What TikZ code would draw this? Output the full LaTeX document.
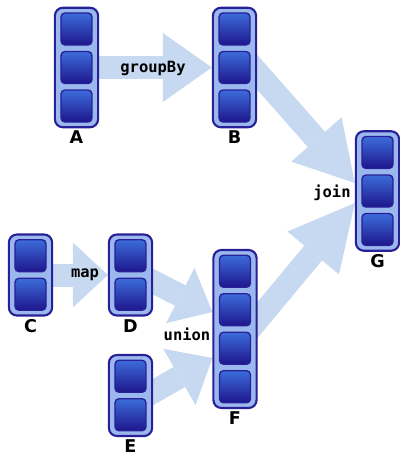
\documentclass[tikz,border=0pt]{standalone}
\usepackage{fontspec}
\setsansfont{DejaVu Sans}
\setmonofont{DejaVu Sans Mono}
\usetikzlibrary{arrows.meta, backgrounds}

\definecolor{rddfill}{RGB}{155,184,238}
\definecolor{rddline}{RGB}{40,32,150}
\definecolor{celltop}{RGB}{60,108,218}
\definecolor{cellbot}{RGB}{30,22,140}
\definecolor{flowblue}{RGB}{198,217,241}

\tikzset{
	rdd/.style = {draw = rddline, fill = rddfill, line width = 1.5pt, rounded corners = 0.2cm, minimum width = 1.08cm, inner sep = 0pt},
	part/.style = {draw = rddline, top color = celltop, bottom color = cellbot, line width = 1pt, rounded corners = 0.1cm, minimum width = 0.775cm, minimum height = 0.8cm, inner sep = 0pt},
	rddname/.style = {font = \sffamily\bfseries\fontsize{12.5}{14}\selectfont, anchor = base, inner sep = 0pt},
	opname/.style = {font = \ttfamily\bfseries\fontsize{11}{13}\selectfont, inner sep = 0pt},
	flow/.style 2 args = {draw = flowblue, line width = 0.575cm, -{Triangle[length = #1, width = #2, line width = 0pt]}}
}

\begin{document}
\begin{tikzpicture}[x = 0.025cm, y = -0.025cm]

\useasboundingbox (0, 0) rectangle (400, 456);

\foreach \n/\x/\y/\k in {A/76.5/67.5/3, B/234.5/67.5/3, C/30.5/275/2, D/130.5/275/2, E/130.5/395.5/2, F/235/329/4, G/377.5/191/3} {
	\node[rdd, minimum height = {(38.5 * \k + 4) * 0.025cm}] (\n) at (\x, \y) {};
	\foreach \i in {1, ..., \k}
		\node[part] (\n\i) at ([yshift = {((\k + 1) / 2 - \i) * 0.9625cm}]\n.center) {};
	\node[rddname] (name\n) at ([yshift = -0.39cm]\n.south) {\n};
}

\begin{scope}[on background layer]
	\draw[flow = {1.225cm}{1.725cm}] (A.center) -- (B.west);
	\draw[flow = {0.875cm}{1.625cm}] (C.center) -- (D.west);
	\draw[flow = {0.9cm}{1.55cm}] ([yshift = 0.125cm]D.center) -- ([yshift = 0.425cm]F.west);
	\draw[flow = {0.95cm}{1.625cm}] ([yshift = -0.2375cm]E.center) -- ([yshift = -0.725cm]F.west);
	\draw[flow = {1.45cm}{1.675cm}] ([yshift = 0.525cm]B.center) -- ([yshift = 0.2cm]G.west);
	\draw[flow = {1.625cm}{1.675cm}] ([yshift = -0.45cm]F.center) -- ([yshift = -0.3cm]G.west);
\end{scope}

\node[opname] (groupBy) at (153, 68) {groupBy};
\node[opname] (map) at (85, 275) {map};
\node[opname] (union) at (187, 334) {union};
\node[opname] (join) at (332, 193) {join};

\end{tikzpicture}
\end{document}
